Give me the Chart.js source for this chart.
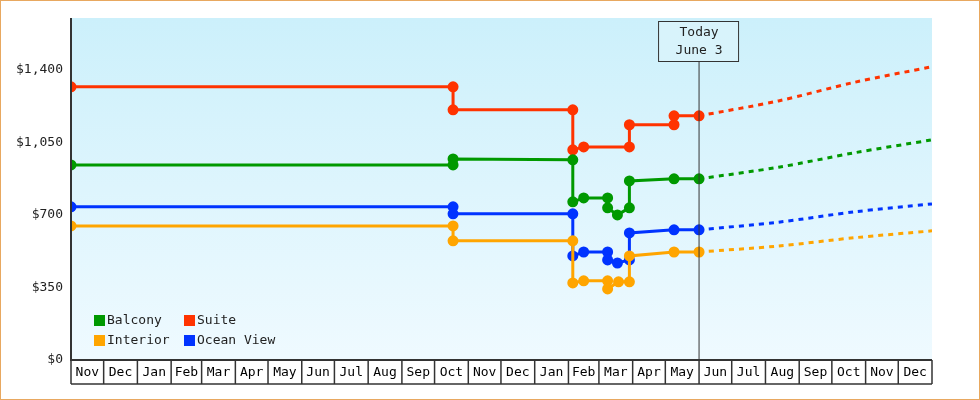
<!DOCTYPE html>
<html>
<head>
<meta charset="utf-8">
<script src="https://cdn.jsdelivr.net/npm/chart.js@4"></script>
<style>
  html, body { margin: 0; padding: 0; background: #fff; }
  #wrap { width: 978px; height: 398px; border: 1px solid #e8a860; position: relative; }
</style>
</head>
<body>
<div id="wrap"><canvas id="c" width="978" height="398"></canvas></div>
<script>
// x values are days counted from Nov 1 of the first year
const monthLabels = ['Nov','Dec','Jan','Feb','Mar','Apr','May','Jun','Jul','Aug','Sep','Oct',
                     'Nov','Dec','Jan','Feb','Mar','Apr','May','Jun','Jul','Aug','Sep','Oct','Nov','Dec'];
const monthDays = [30,31,31,28,31,30,31,30,31,31,30,31,30,31,31,28,31,30,31,30,31,31,30,31,30,31];
const yTicks = [0, 350, 700, 1050, 1400];
const todayDay = 577;
const todayLabel = ['Today', 'June 3'];

const balconyDays   = [0, 351, 351, 461, 461, 471, 493, 493, 502, 513, 513, 554, 577];
const balconyValues = [941, 941, 970, 966, 763, 782, 782, 734, 700, 734, 864, 874, 874];
const suiteDays     = [0, 351, 351, 461, 461, 471, 513, 513, 554, 554, 577];
const suiteValues   = [1318, 1318, 1207, 1207, 1014, 1028, 1028, 1135, 1135, 1178, 1178];
const interiorDays   = [0, 351, 351, 461, 461, 471, 493, 493, 503, 513, 513, 554, 577];
const interiorValues = [647, 647, 575, 575, 372, 382, 382, 343, 377, 377, 502, 521, 521];
const oceanDays   = [0, 351, 351, 461, 461, 471, 493, 493, 502, 513, 513, 554, 577];
const oceanValues = [739, 739, 705, 705, 502, 521, 521, 483, 468, 483, 613, 628, 628];

// projected prices after today
const projDays = [577, 650, 720, 791];
const balconyProj  = [874, 930, 1000, 1062];
const suiteProj    = [1178, 1250, 1340, 1415];
const interiorProj = [521, 550, 590, 623];
const oceanProj    = [628, 665, 715, 753];

const colors = { balcony: '#009900', suite: '#ff3300', interior: '#ffa500', ocean: '#0033ff' };
const font = '"DejaVu Sans Mono", monospace';

function pts(xs, ys) { return xs.map((x, i) => ({ x: x, y: ys[i] })); }
function solid(label, xs, ys, color) {
  return { label, data: pts(xs, ys), borderColor: color, backgroundColor: color,
           borderWidth: 3, pointRadius: 4, pointHoverRadius: 4 };
}
function dashed(xs, ys, color) {
  return { label: '', data: pts(xs, ys), borderColor: color, borderWidth: 3,
           borderDash: [5, 5], pointRadius: 0, tension: 0.3 };
}

const backdrop = {
  id: 'backdrop',
  beforeDraw(chart) {
    const { ctx, chartArea: a } = chart;
    const g = ctx.createLinearGradient(0, a.top, 0, a.bottom);
    g.addColorStop(0, '#ccf0fb');
    g.addColorStop(1, '#effaff');
    ctx.fillStyle = g;
    ctx.fillRect(a.left, a.top, a.right - a.left, a.bottom - a.top);
  },
  afterDraw(chart) {
    const { ctx, chartArea: a, scales: { x } } = chart;
    ctx.save();
    // month cells
    ctx.strokeStyle = '#333'; ctx.lineWidth = 1.5;
    ctx.font = '13px ' + font; ctx.fillStyle = '#000';
    ctx.textAlign = 'center'; ctx.textBaseline = 'middle';
    let d = 0;
    const cellBottom = a.bottom + 24;
    for (let i = 0; i < monthLabels.length; i++) {
      const x0 = x.getPixelForValue(d), x1 = x.getPixelForValue(d + monthDays[i]);
      ctx.beginPath(); ctx.moveTo(x0, a.bottom); ctx.lineTo(x0, cellBottom); ctx.stroke();
      ctx.fillText(monthLabels[i], (x0 + x1) / 2, a.bottom + 13);
      d += monthDays[i];
    }
    const xe = x.getPixelForValue(d);
    ctx.beginPath(); ctx.moveTo(xe, a.bottom); ctx.lineTo(xe, cellBottom); ctx.stroke();
    ctx.beginPath(); ctx.moveTo(a.left, cellBottom); ctx.lineTo(xe, cellBottom); ctx.stroke();
    // axes
    ctx.lineWidth = 2;
    ctx.beginPath(); ctx.moveTo(a.left, a.top); ctx.lineTo(a.left, a.bottom); ctx.lineTo(a.right, a.bottom); ctx.stroke();
    // today marker
    const tx = x.getPixelForValue(todayDay);
    ctx.lineWidth = 1;
    ctx.beginPath(); ctx.moveTo(tx, 60); ctx.lineTo(tx, a.bottom); ctx.stroke();
    ctx.fillStyle = '#d8f3fb';
    ctx.fillRect(tx - 40, 20, 80, 40);
    ctx.strokeRect(tx - 40.5, 20.5, 80, 40);
    ctx.fillStyle = '#222';
    ctx.fillText(todayLabel[0], tx, 32);
    ctx.fillText(todayLabel[1], tx, 50);
    // legend
    const items = [['Balcony', colors.balcony, 93, 320], ['Suite', colors.suite, 183, 320],
                   ['Interior', colors.interior, 93, 340], ['Ocean View', colors.ocean, 183, 340]];
    ctx.textAlign = 'left';
    items.forEach(([t, c, lx, ly]) => {
      ctx.fillStyle = c; ctx.fillRect(lx, ly - 6, 11, 11);
      ctx.fillStyle = '#222'; ctx.fillText(t, lx + 13, ly);
    });
    ctx.restore();
  }
};

new Chart(document.getElementById('c'), {
  type: 'line',
  data: {
    datasets: [
      solid('Balcony', balconyDays, balconyValues, colors.balcony),
      solid('Suite', suiteDays, suiteValues, colors.suite),
      solid('Interior', interiorDays, interiorValues, colors.interior),
      solid('Ocean View', oceanDays, oceanValues, colors.ocean),
      dashed(projDays, balconyProj, colors.balcony),
      dashed(projDays, suiteProj, colors.suite),
      dashed(projDays, interiorProj, colors.interior),
      dashed(projDays, oceanProj, colors.ocean)
    ]
  },
  options: {
    responsive: false, animation: false,
    layout: { padding: { left: 0, right: 47, top: 17, bottom: 15 } },
    plugins: { legend: { display: false }, tooltip: { enabled: false } },
    scales: {
      x: { type: 'linear', min: 0, max: 791, grid: { display: false }, border: { display: false },
           ticks: { display: false }, afterFit: s => { s.height = 24; } },
      y: { min: 0, max: 1650, border: { display: false },
           grid: { display: false, drawTicks: false },
           afterBuildTicks: s => { s.ticks = yTicks.map(v => ({ value: v })); },
           afterFit: s => { s.width = 70; },
           ticks: { color: '#222', font: { family: font, size: 13 }, padding: 8,
                    callback: v => '$' + v.toLocaleString('en-US') } }
    }
  },
  plugins: [backdrop]
});
</script>
</body>
</html>
